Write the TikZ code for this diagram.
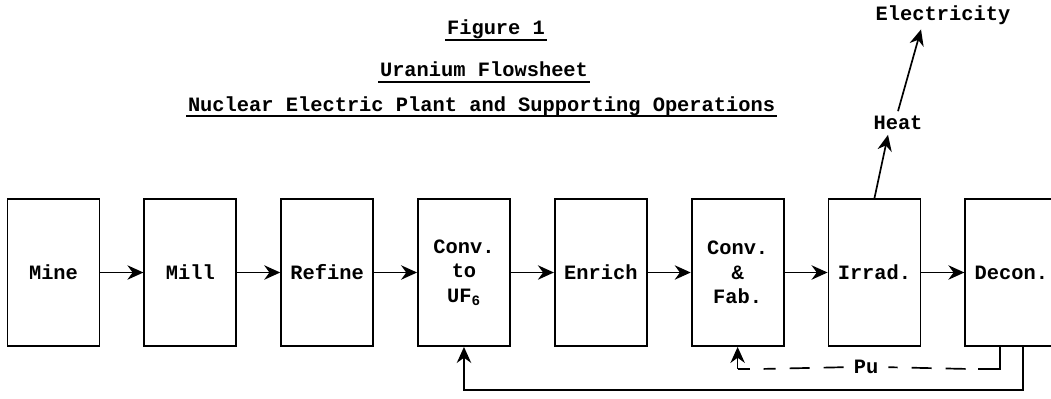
\documentclass[tikz,border=0pt]{standalone}
\usepackage{fontspec}
\setmonofont{Liberation Mono}
\usepackage{tikz}
\usetikzlibrary{arrows.meta,positioning}

\begin{document}
\begin{tikzpicture}[
    font=\ttfamily\bfseries\fontsize{14.5}{17.5}\selectfont,
    stage/.style={draw,line width=1.3pt,minimum width=2.3cm,minimum height=3.675cm,
      align=center,inner sep=1pt},
    title/.style={inner sep=1pt,text height=1.6ex,text depth=0.6ex},
    uline/.style={line width=1.4pt},
    arr/.style={-{Stealth[length=4mm,width=3.6mm]},line width=1.2pt}
  ]
    \useasboundingbox (0,0) rectangle (26.275,-9.95);
    % headings
    \node[title] (fig) at (12.4,-0.78) {Figure 1};
    \node[title] (flow) at (12.1,-1.83) {Uranium Flowsheet};
    \node[title] (plant) at (12.04,-2.7) {Nuclear Electric Plant and Supporting Operations};
    \foreach \t in {fig,flow,plant}\draw[uline](\t.south west)--(\t.south east);
    % process chain
    \node[stage] (mine) at (1.3375,-6.8125) {Mine};
    \node[stage,right=1.075cm of mine] (mill) {Mill};
    \node[stage,right=1.075cm of mill] (refine) {Refine};
    \node[stage,right=1.075cm of refine] (conv) {Conv.\\to\\UF\textsubscript{6}};
    \node[stage,right=1.075cm of conv] (enrich) {Enrich};
    \node[stage,right=1.075cm of enrich] (fab) {Conv.\\\&\\Fab.};
    \node[stage,right=1.075cm of fab] (irrad) {Irrad.};
    \node[stage,right=1.075cm of irrad] (decon) {Decon.};
    \foreach \a/\b in {mine/mill,mill/refine,refine/conv,conv/enrich,enrich/fab,fab/irrad,irrad/decon}
      \draw[arr](\a)--(\b);
    % power side
    \node (heat) at (22.45,-3.075) {Heat};
    \node (elec) at (23.575,-0.375) {Electricity};
    \draw[arr](irrad.north)--([xshift=-2.5mm]heat.south);
    \draw[arr](heat.north)--([xshift=-5.5mm]elec.south);
    % recycle
    \node[inner sep=7pt] (pu) at (21.65,-9.18) {Pu};
    \draw[line width=1.2pt]([xshift=-2.9mm]decon.south)--++(0,-0.55)coordinate(pr)--++(-0.55,0)coordinate(pd);
    \coordinate (pl) at (pr -| fab.south);
    \draw[line width=1.2pt]([xshift=0.3cm]pl)--(pl);
    \draw[line width=1.2pt,dash pattern=on 5mm off 3.5mm]([xshift=-0.3cm]pd)--(pu.east);
    \draw[line width=1.2pt,dash pattern=on 5mm off 3.5mm](pu.west)--([xshift=0.65cm]pl);
    \draw[arr](pl)--(fab.south);
    \draw[arr]([xshift=2.9mm]decon.south)--++(0,-1.075)-|(conv.south);
\end{tikzpicture}
\end{document}
